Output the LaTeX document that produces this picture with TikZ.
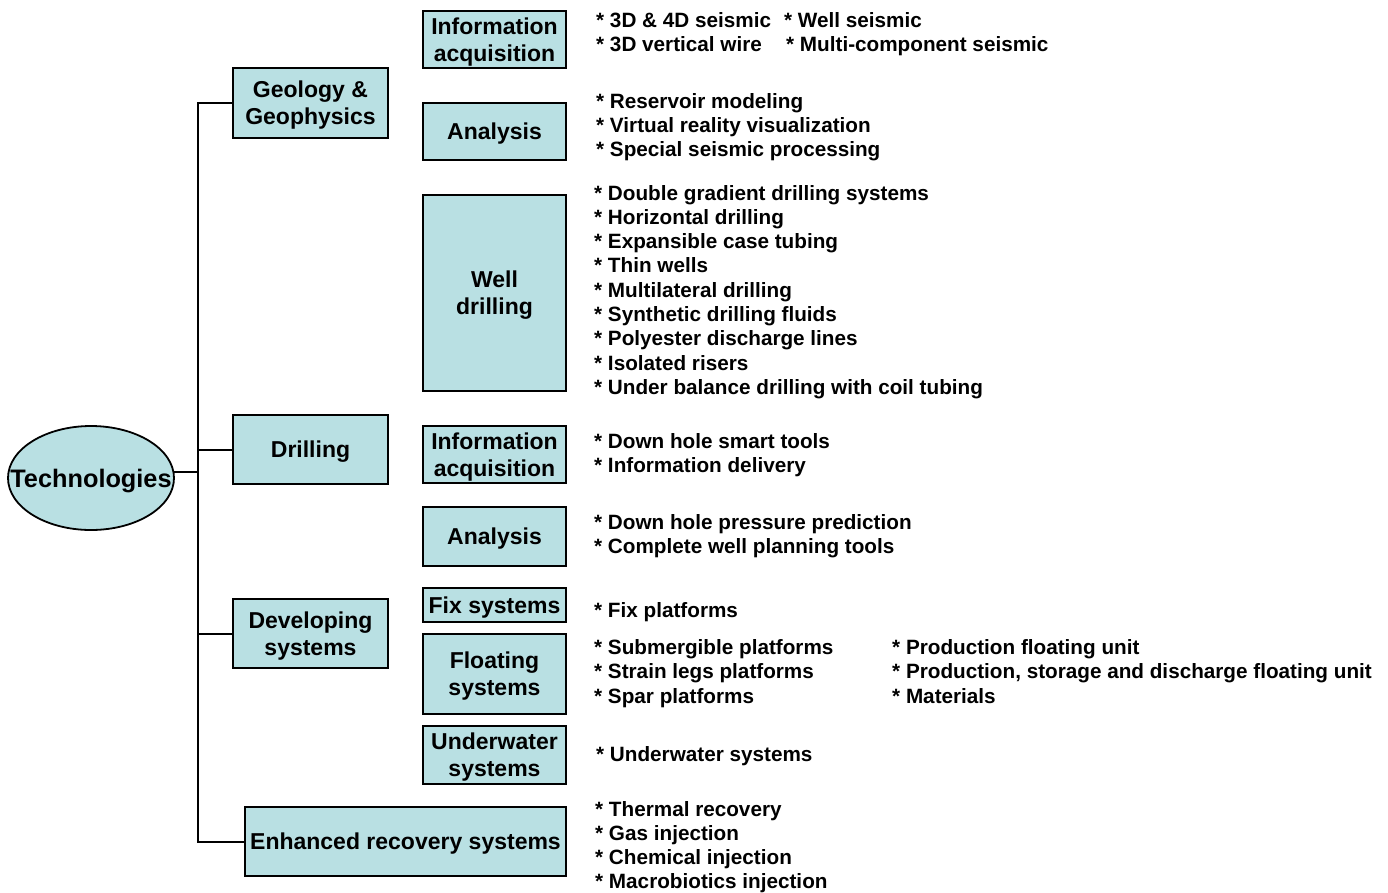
\documentclass[tikz,border=0pt]{standalone}
\usepackage{fontspec}
\setmainfont{Liberation Sans}
\usetikzlibrary{shapes.geometric}

\definecolor{techcyan}{RGB}{185,224,227}
\newcommand\boxtxt{\fontsize{23}{27}\selectfont\bfseries}
\newcommand\itemtxt{\fontsize{20.7}{24.4}\selectfont\bfseries}

\tikzset{
    box/.style={draw, fill=techcyan, line width=1.8pt, inner sep=0pt, text depth=0pt, align=center, font=\boxtxt},
    item/.style={anchor=base west, inner sep=0pt, font=\itemtxt},
    link/.style={line width=2pt},
}

\begin{document}
\begin{tikzpicture}[x=1pt, y=-1pt]
    \useasboundingbox (0,0) rectangle (1388,892);

    \def \bx {494.5};
    \def \lx {594};
    \def \dy {24.3};

    % root
    \node[box, ellipse, minimum width=166pt, minimum height=104pt, font=\fontsize{25.3}{30}\selectfont\bfseries] (tech) at (91,478) {\makebox[0pt]{Technologies}};

    % first level
    \node[box, minimum width=155pt, minimum height=70pt] (geo) at (310.5,103) {Geology \&\\Geophysics};
    \node[box, minimum width=155pt, minimum height=69pt] (drill) at (310.5,449.5) {Drilling};
    \node[box, minimum width=155pt, minimum height=69pt] (dev) at (310.5,633.5) {Developing\\systems};
    \node[box, minimum width=321pt, minimum height=69pt] (enh) at (405.5,841.5) {Enhanced recovery systems};

    % second level
    \node[box, minimum width=143pt, minimum height=57pt] (geo-acq) at (\bx,39.5) {Information\\acquisition};
    \node[box, minimum width=143pt, minimum height=57pt] (geo-ana) at (\bx,131.5) {Analysis};
    \node[box, minimum width=143pt, minimum height=196pt] (well) at (\bx,293) {Well\\drilling};
    \node[box, minimum width=143pt, minimum height=57pt] (drill-acq) at (\bx,454.5) {Information\\acquisition};
    \node[box, minimum width=143pt, minimum height=59pt] (drill-ana) at (\bx,536.5) {Analysis};
    \node[box, minimum width=143pt, minimum height=34pt] (fix) at (\bx,605) {Fix systems};
    \node[box, minimum width=143pt, minimum height=80pt] (float) at (\bx,674) {Floating\\systems};
    \node[box, minimum width=143pt, minimum height=58pt] (under) at (\bx,755) {Underwater\\systems};

    % tree lines
    \coordinate (trunk) at (198,103);
    \draw[link] (tech.4) -- (tech.4 -| trunk);
    \draw[link] (geo.west) -- (geo.west -| trunk) -- (enh.west -| trunk) -- (enh.west);
    \draw[link] (drill.west) -- (drill.west -| trunk);
    \draw[link] (dev.west) -- (dev.west -| trunk);

    % lists
    \node[item] (geo-acq-a) at (596,27) {* 3D \& 4D seismic};
    \node[item] (geo-acq-b) at (784,27) {* Well seismic};
    \node[item] (geo-acq-c) at (596,51) {* 3D vertical wire};
    \node[item] (geo-acq-d) at (786,51) {* Multi-component seismic};

    \foreach \t [count=\i from 0] in {Reservoir modeling, Virtual reality visualization, Special seismic processing}
        \node[item] (geo-ana-\i) at (596, {108 + \dy*\i}) {* \t};

    \foreach \t [count=\i from 0] in {Double gradient drilling systems, Horizontal drilling, Expansible case tubing,
            Thin wells, Multilateral drilling, Synthetic drilling fluids, Polyester discharge lines,
            Isolated risers, Under balance drilling with coil tubing}
        \node[item] (well-\i) at (\lx, {200 + \dy*\i}) {* \t};

    \foreach \t [count=\i from 0] in {Down hole smart tools, Information delivery}
        \node[item] (drill-acq-\i) at (\lx, {448 + \dy*\i}) {* \t};

    \foreach \t [count=\i from 0] in {Down hole pressure prediction, Complete well planning tools}
        \node[item] (drill-ana-\i) at (\lx, {529 + \dy*\i}) {* \t};

    \node[item] (fix-0) at (\lx,617) {* Fix platforms};

    \foreach \t [count=\i from 0] in {Submergible platforms, Strain legs platforms, Spar platforms}
        \node[item] (float-\i) at (\lx, {654 + 24.5*\i}) {* \t};
    \foreach \t [count=\i from 0] in {Production floating unit, {Production, storage and discharge floating unit}, Materials}
        \node[item] (float-b-\i) at (892, {654 + 24.5*\i}) {* \t};

    \node[item] (under-0) at (596,761) {* Underwater systems};

    \foreach \t [count=\i from 0] in {Thermal recovery, Gas injection, Chemical injection, Macrobiotics injection}
        \node[item] (enh-\i) at (595, {816 + \dy*\i}) {* \t};
\end{tikzpicture}
\end{document}
